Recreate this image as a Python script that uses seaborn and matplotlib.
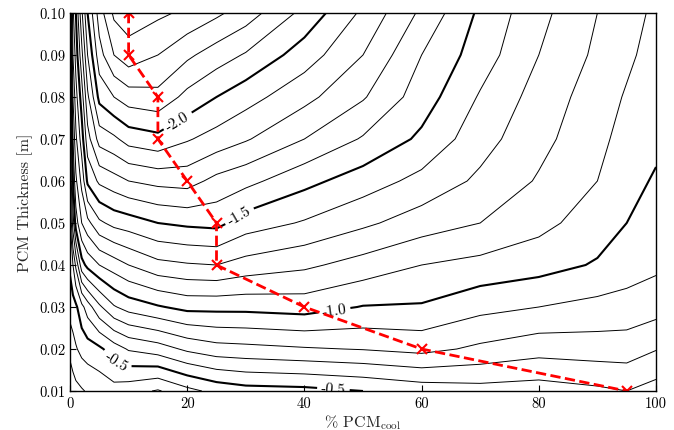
import numpy as np
import matplotlib
matplotlib.use("Agg")
import matplotlib.pyplot as plt
import seaborn as sns
import pandas as pd

# ---- data ----
pcm_cool = [0, 0.5, 1, 2, 3, 5, 7.5, 10, 15, 20, 25, 30, 40, 50, 60, 70, 80, 90, 95, 100]
thickness = [0.01, 0.02, 0.03, 0.04, 0.05, 0.06, 0.07, 0.08, 0.09, 0.10]

z_t01 = [-0.22, -0.25, -0.27, -0.29, -0.31, -0.33, -0.36, -0.34, -0.29, -0.37, -0.43, -0.46, -0.47, -0.50, -0.54, -0.56, -0.55, -0.58, -0.60, -0.56]
z_t02 = [-0.33, -0.36, -0.39, -0.43, -0.45, -0.48, -0.55, -0.61, -0.65, -0.72, -0.76, -0.77, -0.79, -0.805, -0.83, -0.78, -0.74, -0.75, -0.75, -0.705]
z_t03 = [-0.44, -0.46, -0.48, -0.57, -0.65, -0.78, -0.89, -0.94, -0.99, -1.03, -1.03, -1.03, -1.045, -0.995, -0.99, -0.93, -0.90, -0.87, -0.86, -0.84]
z_t04 = [-0.52, -0.60, -0.72, -0.96, -1.03, -1.10, -1.15, -1.20, -1.27, -1.29, -1.30, -1.26, -1.22, -1.16, -1.10, -1.07, -1.04, -0.99, -0.95, -0.92]
z_t05 = [-0.58, -0.85, -1.05, -1.20, -1.27, -1.38, -1.43, -1.45, -1.50, -1.52, -1.53, -1.45, -1.39, -1.32, -1.25, -1.20, -1.13, -1.05, -1.00, -0.96]
z_t06 = [-0.64, -1.00, -1.18, -1.33, -1.52, -1.62, -1.66, -1.70, -1.73, -1.74, -1.67, -1.63, -1.53, -1.45, -1.37, -1.28, -1.19, -1.10, -1.03, -0.99]
z_t07 = [-0.70, -1.10, -1.28, -1.45, -1.66, -1.84, -1.88, -1.94, -1.97, -1.91, -1.86, -1.81, -1.70, -1.59, -1.48, -1.34, -1.23, -1.13, -1.06, -1.02]
z_t08 = [-0.76, -1.20, -1.36, -1.55, -1.78, -2.03, -2.10, -2.15, -2.17, -2.07, -2.00, -1.94, -1.83, -1.71, -1.55, -1.39, -1.26, -1.15, -1.09, -1.04]
z_t09 = [-0.82, -1.30, -1.44, -1.67, -1.90, -2.16, -2.30, -2.36, -2.30, -2.22, -2.15, -2.09, -1.95, -1.80, -1.60, -1.45, -1.30, -1.18, -1.12, -1.06]
z_t10 = [-0.88, -1.38, -1.50, -1.78, -2.00, -2.25, -2.42, -2.45, -2.42, -2.38, -2.32, -2.25, -2.07, -1.88, -1.68, -1.48, -1.33, -1.20, -1.14, -1.08]

# optimum path (red)
opt_pcm = [10, 10, 15, 15, 20, 25, 25, 40, 60, 95]
opt_thk = [0.10, 0.09, 0.08, 0.07, 0.06, 0.05, 0.04, 0.03, 0.02, 0.01]

thin_levels = [-2.4, -2.3, -2.2, -2.1, -1.9, -1.8, -1.7, -1.6, -1.4, -1.3, -1.2, -1.1,
               -0.9, -0.8, -0.7, -0.6, -0.4, -0.3, -0.2]
bold_levels = [-2.0, -1.5, -1.0, -0.5]
xticks = [0, 20, 40, 60, 80, 100]
yticks = [0.01, 0.02, 0.03, 0.04, 0.05, 0.06, 0.07, 0.08, 0.09, 0.10]

# ---- styling ----
sns.set_theme(style="ticks")
plt.rcParams["font.family"] = ["cmr10", "DejaVu Serif"]
plt.rcParams["mathtext.fontset"] = "cm"
plt.rcParams["axes.unicode_minus"] = False
plt.rcParams["axes.formatter.use_mathtext"] = True
plt.rcParams["contour.negative_linestyle"] = "solid"

fig = plt.figure(figsize=(6.74, 4.31), dpi=100)
ax = fig.add_axes([70 / 674, 1 - 392 / 431, 586 / 674, 378 / 431])

Z = np.array([z_t01, z_t02, z_t03, z_t04, z_t05, z_t06, z_t07, z_t08, z_t09, z_t10])
X, Y = np.meshgrid(pcm_cool, thickness)

ax.contour(X, Y, Z, levels=thin_levels, colors="black", linewidths=0.7,
           linestyles="solid")
cs_bold = ax.contour(X, Y, Z, levels=bold_levels, colors="black", linewidths=1.5,
                     linestyles="solid")

label_pos = [(18, 0.0752), (29, 0.0515), (45, 0.0300), (8, 0.0175), (45, 0.0115)]
ax.clabel(cs_bold, manual=label_pos, inline=True, inline_spacing=4,
          fontsize=11, fmt=lambda v: f"{v:.1f}")

df = pd.DataFrame({"pcm": opt_pcm, "thk": opt_thk})
sns.lineplot(data=df, x="pcm", y="thk", ax=ax, sort=False, estimator=None,
             color="red", linestyle="--", linewidth=2, marker="x",
             markersize=7.5, markeredgewidth=1.5, markeredgecolor="red", zorder=5)

ax.set_xlim(0, 100)
ax.set_ylim(0.01, 0.10)
ax.set_xticks(xticks)
ax.set_yticks(yticks)
ax.set_xticklabels([str(t) for t in xticks])
ax.set_yticklabels([f"{t:.2f}" for t in yticks])
ax.tick_params(direction="in", labelsize=10.5, length=4, width=0.8, colors="black")
for s in ax.spines.values():
    s.set_linewidth(1.0)
    s.set_color("black")
    s.set_zorder(6)
ax.set_xlabel(r"% PCM$_{\rm cool}$", fontsize=11.5, labelpad=2)
ax.set_ylabel("PCM Thickness [m]", fontsize=11.5, labelpad=4)

fig.savefig("out.png", dpi=100)
